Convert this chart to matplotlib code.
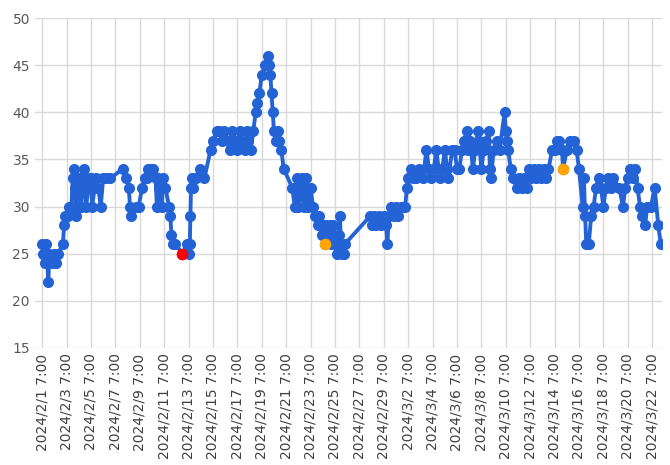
import datetime as dt

import matplotlib.pyplot as plt
import matplotlib.dates as mdates

START = dt.datetime(2024, 2, 1, 7, 0)

# day offsets from 2024/2/1 7:00 and readings
DAYS = [
    0.0, 0.1, 0.2, 0.3, 0.4, 0.5, 0.6, 0.8, 1.0, 1.1, 1.3, 1.7, 1.8, 1.9, 2.1, 2.2, 2.4, 2.5, 2.6, 2.7,
    2.8, 2.9, 3.0, 3.1, 3.2, 3.4, 3.5, 3.6, 3.8, 3.9, 4.0, 4.1, 4.3, 4.4, 4.6, 4.8, 5.0, 5.2, 5.6, 6.6,
    6.9, 7.1, 7.2, 7.3, 7.7, 7.9, 8.2, 8.4, 8.6, 8.7, 8.9, 9.1, 9.3, 9.4, 9.5, 9.6, 9.8, 9.9, 10.1, 10.4,
    10.5, 10.6, 10.7, 10.9, 11.5, 11.9, 12.0, 12.1, 12.15, 12.2, 12.3, 12.4, 12.6, 12.9, 13.3, 13.8, 14.0, 14.3, 14.5, 14.7,
    14.9, 15.2, 15.4, 15.6, 15.8, 16.0, 16.2, 16.4, 16.6, 16.8, 16.9, 17.1, 17.3, 17.5, 17.6, 17.8, 18.0, 18.3, 18.5, 18.6,
    18.7, 18.8, 18.9, 19.0, 19.2, 19.3, 19.4, 19.6, 19.8, 20.5, 20.7, 20.8, 20.9, 21.0, 21.1, 21.3, 21.4, 21.5, 21.6, 21.7,
    21.8, 22.0, 22.2, 22.4, 22.6, 22.7, 22.9, 23.0, 23.2, 23.3, 23.5, 23.6, 23.7, 23.8, 23.9, 24.0, 24.2, 24.3, 24.4, 24.5,
    24.6, 24.7, 24.8, 26.9, 27.0, 27.2, 27.4, 27.6, 27.8, 28.0, 28.2, 28.3, 28.4, 28.6, 28.8, 29.0, 29.2, 29.4, 29.6, 29.75,
    29.9, 30.0, 30.2, 30.4, 30.6, 30.9, 31.2, 31.5, 31.7, 31.9, 32.1, 32.3, 32.5, 32.6, 32.8, 33.0, 33.2, 33.3, 33.6, 33.8,
    34.0, 34.2, 34.4, 34.6, 34.8, 34.9, 35.1, 35.3, 35.5, 35.7, 35.8, 36.0, 36.2, 36.4, 36.6, 36.7, 36.8, 37.0, 37.3, 37.5,
    37.9, 38.0, 38.1, 38.2, 38.4, 38.6, 38.9, 39.1, 39.3, 39.5, 39.7, 39.9, 40.1, 40.3, 40.5, 40.7, 40.9, 41.1, 41.3, 41.5,
    41.8, 42.0, 42.2, 42.4, 42.6, 42.7, 43.0, 43.3, 43.6, 43.8, 44.0, 44.3, 44.4, 44.5, 44.6, 44.8, 45.0, 45.2, 45.4, 45.6,
    45.8, 46.0, 46.2, 46.4, 46.6, 46.8, 47.3, 47.6, 47.8, 48.0, 48.2, 48.4, 48.6, 48.8, 49.0, 49.2, 49.4, 49.6, 49.9, 50.2,
    50.5, 50.7,
]
VALUES = [
    26, 25, 24, 26, 25, 22, 25, 24, 25, 24, 25, 26, 28, 29, 29, 30, 30, 33, 34, 32,
    29, 30, 33, 32, 30, 34, 33, 30, 32, 33, 33, 30, 32, 33, 32, 30, 33, 33, 33, 34,
    33, 32, 30, 29, 30, 30, 32, 33, 33, 34, 34, 34, 33, 30, 33, 32, 30, 33, 32, 30,
    29, 27, 26, 26, 25, 26, 25, 26, 29, 32, 33, 32, 33, 34, 33, 36, 37, 38, 38, 37,
    38, 37, 36, 38, 37, 36, 38, 37, 36, 38, 37, 36, 38, 40, 41, 42, 44, 45, 46, 45,
    44, 42, 40, 38, 37, 38, 37, 36, 34, 32, 30, 32, 33, 30, 32, 33, 31, 30, 33, 32,
    30, 32, 30, 29, 28, 29, 27, 28, 26, 28, 27, 28, 26, 28, 27, 26, 25, 27, 29, 26,
    25, 25, 26, 29, 28, 29, 28, 29, 28, 29, 28, 26, 29, 30, 29, 30, 29, 30, 30, 30,
    32, 33, 34, 33, 33, 34, 33, 36, 34, 33, 34, 36, 34, 33, 34, 36, 34, 33, 36, 36,
    34, 34, 36, 37, 38, 36, 37, 34, 36, 38, 37, 34, 36, 37, 38, 34, 33, 36, 37, 36,
    40, 38, 37, 36, 34, 33, 32, 33, 32, 33, 32, 34, 33, 34, 33, 34, 33, 34, 33, 34,
    36, 36, 37, 37, 36, 34, 36, 37, 37, 36, 34, 30, 33, 29, 26, 26, 29, 30, 32, 33,
    32, 30, 32, 33, 32, 33, 32, 30, 32, 33, 34, 33, 34, 32, 30, 29, 28, 30, 30, 32,
    28, 26,
]
RED_DAYS = [11.5]
RED_VALUES = [25]
ORANGE_DAYS = [23.2, 42.7]
ORANGE_VALUES = [26, 34]


def to_times(days):
    return [START + dt.timedelta(days=d) for d in days]


fig = plt.figure(figsize=(6.7, 4.65), dpi=100)
ax = fig.add_axes([0.052, 0.252, 0.936, 0.709])

ax.plot(to_times(DAYS), VALUES, color="#2463D6", linewidth=2.8,
        marker="o", markersize=7, zorder=3)
ax.scatter(to_times(RED_DAYS), RED_VALUES, color="#FF0000", s=55, zorder=4)
ax.scatter(to_times(ORANGE_DAYS), ORANGE_VALUES, color="#FFA500", s=55, zorder=4)

ticks = [START + dt.timedelta(days=2 * i) for i in range(26)]
ax.set_xticks(ticks)
ax.set_xticklabels([f"{t.year}/{t.month}/{t.day} 7:00" for t in ticks],
                   rotation=90, fontsize=10, color="#404040")
ax.set_xlim(START - dt.timedelta(days=0.6), START + dt.timedelta(days=50.8))
ax.set_ylim(15, 50)
ax.set_yticks(range(15, 51, 5))
ax.tick_params(axis="y", labelsize=10, labelcolor="#595959", length=0)
ax.tick_params(axis="x", length=0, pad=4)
ax.grid(True, color="#d9d9d9", linewidth=1.0, zorder=0)
for spine in ax.spines.values():
    spine.set_visible(False)

fig.savefig("out.png", dpi=100)
